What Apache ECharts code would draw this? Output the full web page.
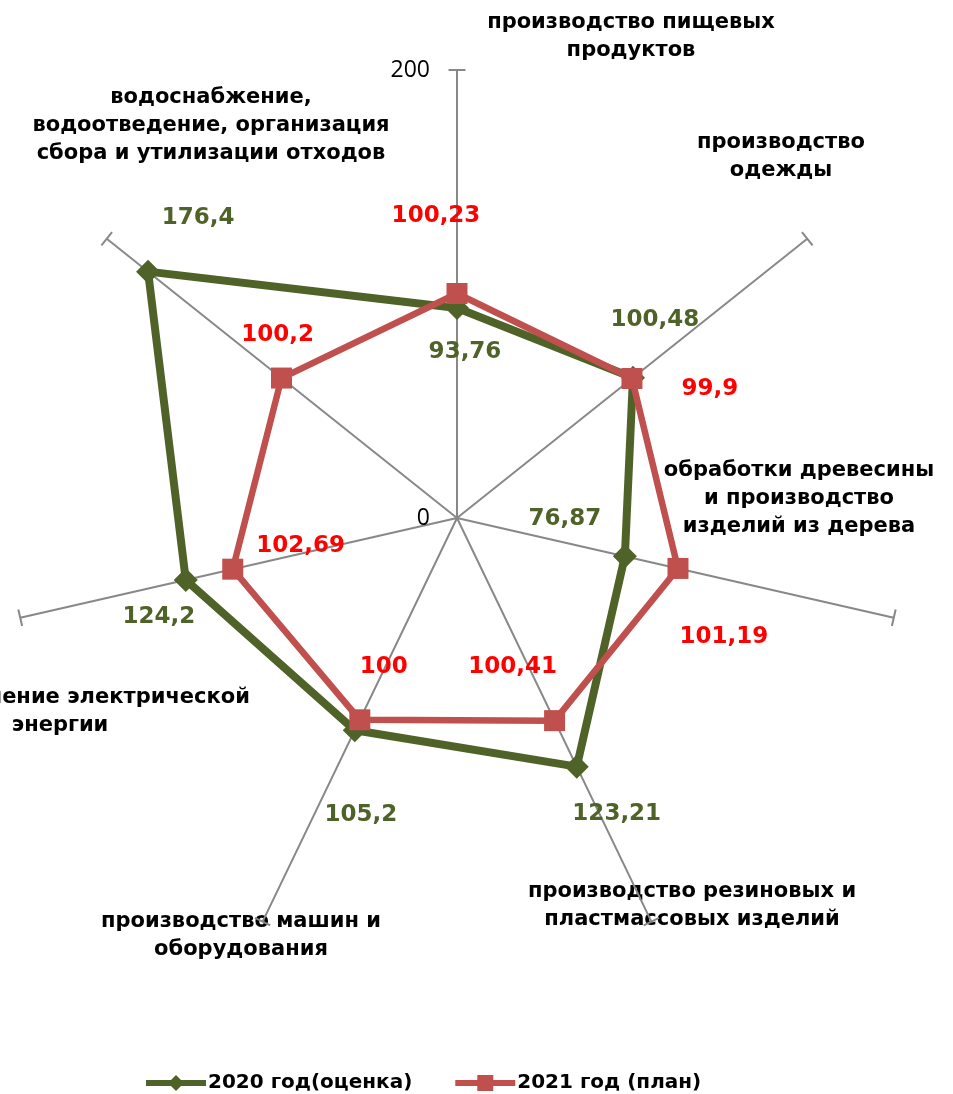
<!DOCTYPE html>
<html>
<head>
<meta charset="utf-8">
<script src="https://cdn.jsdelivr.net/npm/echarts@6/dist/echarts.min.js"></script>
<style>
  html, body { margin: 0; padding: 0; background: #fff; }
  #main { width: 953px; height: 1094px; }
</style>
</head>
<body>
<div id="main"></div>
<script>
// категории по часовой стрелке, начиная сверху
const categories = [
    'производство пищевых\nпродуктов',
    'производство\nодежды',
    'обработки древесины\nи производство\nизделий из дерева',
    'производство резиновых и\nпластмассовых изделий',
    'производство машин и\nоборудования',
    'распределение электрической\nэнергии',
    'водоснабжение,\nводоотведение, организация\nсбора и утилизации отходов'
];
const seriesNames = ['2020 год(оценка)', '2021 год (план)'];
const values2020 = [93.76, 100.48, 76.87, 123.21, 105.2, 124.2, 176.4];
const values2021 = [100.23, 99.9, 101.19, 100.41, 100, 102.69, 100.2];
const radiusTicks = [0, 200];

// положение подписей (центр, верх первой строки)
const nameLayout = [[631, 9], [781, 129], [799, 457], [692, 878], [241, 908], [60, 684], [211, 84]];
// смещения подписей значений от точки
const offs2020 = [[8, 44], [22, -58], [-60, -37], [40, 47], [6, 85], [-27, 37], [50, -54]];
const offs2021 = [[-21, -77], [78, 11], [46, 69], [-42, -54], [24, -53], [68, -23], [-4, -43]];

const FONT = '"DejaVu Sans", sans-serif';
const GREEN = '#4F6228';
const RED = '#C0504D';
const GRID = '#888888';

function buildData(vals, offs) {
    let d = vals.map((v, i) => ({ value: [v, i], label: { offset: offs[i] } }));
    // замыкаем многоугольник
    d.push({ value: [vals[0], vals.length], label: { show: false }, symbol: 'none' });
    return d;
}

function fmt(p) {
    return String(p.value[0]).replace('.', ',');
}

let chart = echarts.init(document.getElementById('main'));

let option = {
    animation: false,
    polar: { center: [457, 518], radius: 448 },
    angleAxis: {
        type: 'value',
        min: 0,
        max: categories.length,
        interval: 1,
        startAngle: 90,
        clockwise: true,
        axisLine: { show: false },
        axisTick: { show: false },
        axisLabel: { show: false },
        splitLine: { show: true, lineStyle: { color: GRID, width: 2 } }
    },
    radiusAxis: {
        type: 'value',
        min: radiusTicks[0],
        max: radiusTicks[1],
        interval: radiusTicks[1] - radiusTicks[0],
        axisLine: { show: false },
        axisTick: { show: false },
        splitLine: { show: false },
        axisLabel: {
            show: true,
            margin: 27,
            fontFamily: '"Open Sans", sans-serif',
            fontSize: 23,
            color: '#000'
        }
    },
    legend: {
        left: 138,
        top: 1068,
        itemWidth: 60,
        itemHeight: 20,
        itemGap: 40,
        data: seriesNames,
        lineStyle: { width: 6 },
        textStyle: { fontFamily: FONT, fontWeight: 'bold', fontSize: 20, color: '#000', padding: [0, 0, 0, -3] }
    },
    graphic: categories.map((name, i) => ({
        type: 'text',
        x: nameLayout[i][0],
        y: nameLayout[i][1],
        silent: true,
        style: {
            text: name,
            font: 'bold 21px ' + FONT,
            fill: '#000',
            textAlign: 'center',
            align: 'center',
            textVerticalAlign: 'top',
            verticalAlign: 'top',
            lineHeight: 28
        }
    })),
    series: [
        {
            // засечки на концах осей
            type: 'custom',
            coordinateSystem: 'polar',
            silent: true,
            data: categories.map((c, i) => [radiusTicks[1], i]),
            renderItem: function (params, api) {
                let p = api.coord([api.value(0), api.value(1)]);
                let c = api.coord([0, api.value(1)]);
                let dx = p[0] - c[0], dy = p[1] - c[1];
                let len = Math.sqrt(dx * dx + dy * dy);
                let nx = -dy / len * 8.5, ny = dx / len * 8.5;
                return {
                    type: 'line',
                    shape: { x1: p[0] - nx, y1: p[1] - ny, x2: p[0] + nx, y2: p[1] + ny },
                    style: { stroke: GRID, lineWidth: 2 }
                };
            }
        },
        {
            name: seriesNames[0],
            type: 'line',
            coordinateSystem: 'polar',
            data: buildData(values2020, offs2020),
            symbol: 'diamond',
            symbolSize: 24,
            lineStyle: { color: GREEN, width: 8 },
            itemStyle: { color: GREEN },
            label: {
                show: true,
                position: 'inside',
                formatter: fmt,
                fontFamily: FONT,
                fontWeight: 'bold',
                fontSize: 23,
                color: GREEN
            },
            emphasis: { disabled: true }
        },
        {
            name: seriesNames[1],
            type: 'line',
            coordinateSystem: 'polar',
            data: buildData(values2021, offs2021),
            symbol: 'rect',
            symbolSize: 21,
            lineStyle: { color: RED, width: 6.5 },
            itemStyle: { color: RED },
            label: {
                show: true,
                position: 'inside',
                formatter: fmt,
                fontFamily: FONT,
                fontWeight: 'bold',
                fontSize: 23,
                color: '#FF0000'
            },
            emphasis: { disabled: true }
        }
    ]
};
chart.setOption(option);
</script>
</body>
</html>
